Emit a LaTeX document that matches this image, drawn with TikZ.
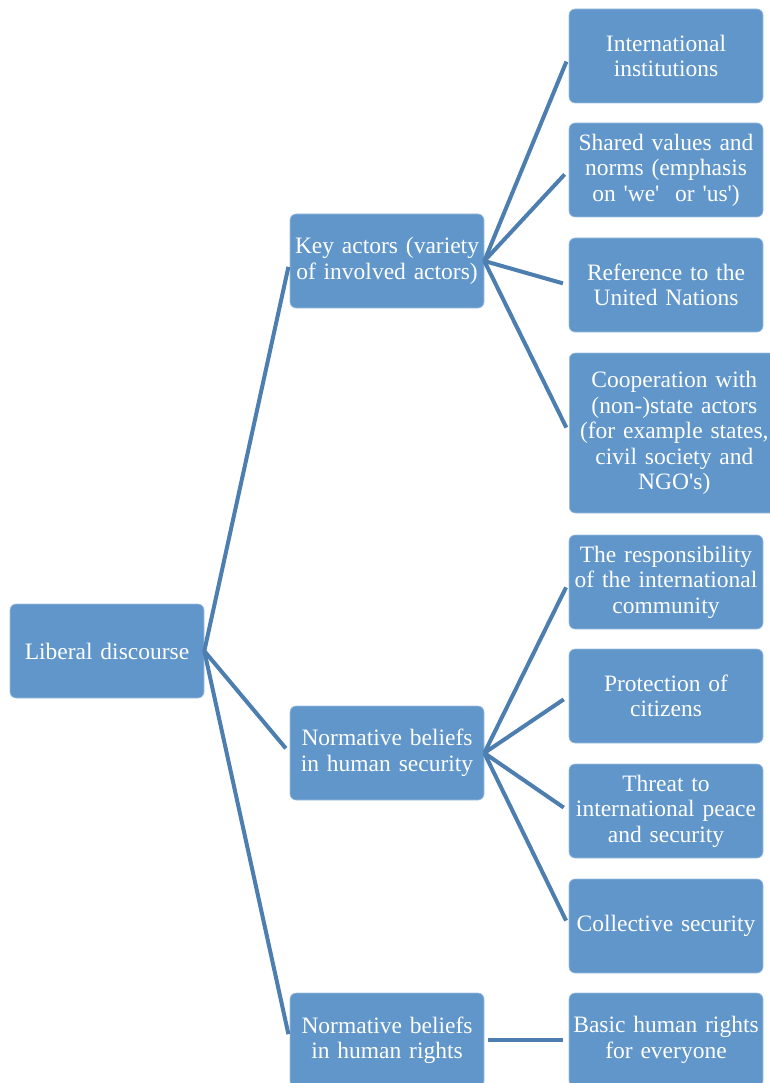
\documentclass[tikz,border=0pt]{standalone}
\usepackage{fontspec}
\setmainfont{Liberation Serif}[Ligatures=TeXOff]
\usepackage{tikz}
\usetikzlibrary{positioning}
\definecolor{boxblue}{RGB}{96,150,201}
\definecolor{linkblue}{RGB}{76,126,176}

\begin{document}
\begin{tikzpicture}[x=1pt,y=-1pt,
    topic/.style={rectangle, rounded corners=6pt, fill=boxblue, draw=boxblue!60!white, line width=0.6pt,
        text=white, minimum width=194pt, minimum height=94pt, text width=192pt, inner sep=0pt,
        align=center, font=\fontsize{23.5}{25.5}\selectfont},
    link/.style={draw=linkblue, line width=4pt, shorten >=6pt}]
    \useasboundingbox (0,0) rectangle (770,1083);
    \clip (0,0) rectangle (770,1083);

    % Root
    \node[topic] (liberal) at (107,651) {Liberal discourse};

    % Middle level
    \node[topic] (actors) at (387,261) {Key actors (variety\\of involved actors)};
    \node[topic] (security) at (387,753) {Normative beliefs\\in human security};
    \node[topic] (rights) at (387,1040) {Normative beliefs\\in human rights};

    % Children of key actors
    \node[topic] (institutions) at (666,56) {International\\institutions};
    \node[topic] (values) at (666,170) {Shared values and\\norms (emphasis\\on 'we'~ or 'us')};
    \node[topic] (nations) at (666,285) {Reference to the\\United Nations};
    \node[topic, minimum width=210pt, minimum height=160pt, text width=210pt, anchor=west] (cooperation) at (569,433)
        {Cooperation with\\(non-)state actors\\(for example states,\\civil society and\\NGO's)};

    % Children of human security
    \node[topic] (community) at (666,582) {The responsibility\\of the international\\community};
    \node[topic] (citizens) at (666,696) {Protection of\\citizens};
    \node[topic] (peace) at (666,811) {Threat to\\international peace\\and security};
    \node[topic] (collective) at (666,926) {Collective security};

    % Child of human rights
    \node[topic] (everyone) at (666,1040) {Basic human rights\\for everyone};

    % Connectors
    \foreach \child in {actors,security,rights}
        \draw[link] (liberal.east) -- (\child.west);
    \foreach \child in {institutions,values,nations,cooperation}
        \draw[link] (actors.east) -- (\child.west);
    \foreach \child in {community,citizens,peace,collective}
        \draw[link] (security.east) -- (\child.west);
    \draw[link, shorten <=4pt] (rights.east) -- (everyone.west);
\end{tikzpicture}
\end{document}
